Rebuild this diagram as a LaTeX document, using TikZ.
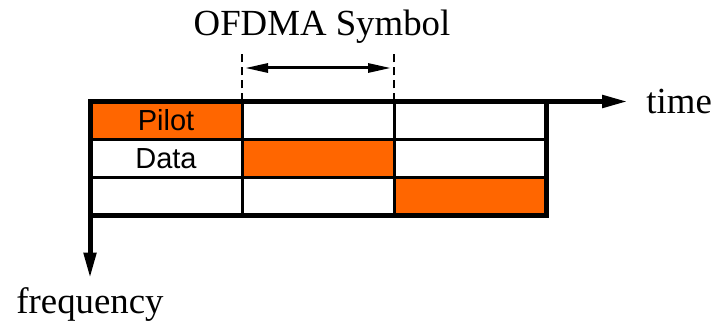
\documentclass[tikz,border=0pt]{standalone}
\usepackage{fontspec}
\setmainfont{Liberation Serif}
\newfontfamily\cellfont{Liberation Sans}
\usepackage{tikz}
\definecolor{PilotOrange}{RGB}{255,102,0}
\usetikzlibrary{
	positioning,
	arrows.meta
}

\begin{document}
\begin{tikzpicture}[
	cell/.style={draw, line width=1.5pt, outer sep=0pt, inner sep=0pt, font=\cellfont\fontsize{14.5}{17}\selectfont, minimum width=76pt, minimum height=19pt},
	pilot/.style={cell, fill=PilotOrange},
	frame/.style={line width=2.5pt},
	axis/.style={line width=2.5pt, -{Triangle[length=13pt,width=6pt]}},
	marker/.style={line width=0.8pt, dash pattern=on 4pt off 2.5pt},
	symspan/.style={line width=1.5pt, {Triangle[length=11.5pt,width=4.5pt]}-{Triangle[length=11.5pt,width=4.5pt]}, shorten >=1.5pt, shorten <=1.5pt},
	axislabel/.style={inner sep=0pt, font=\fontsize{18.4}{22}\selectfont}
]
	\useasboundingbox (0,0) rectangle (358pt,-163pt);

	\node[pilot, anchor=north west] (c11) at (45pt,-50.75pt) {Pilot};
	\node[cell, right=0pt of c11] (c12) {};
	\node[cell, right=0pt of c12] (c13) {};

	\node[cell, below=0pt of c11] (c21) {Data};
	\node[pilot, right=0pt of c21] (c22) {};
	\node[cell, right=0pt of c22] (c23) {};

	\node[cell, below=0pt of c21] (c31) {};
	\node[cell, right=0pt of c31] (c32) {};
	\node[pilot, right=0pt of c32] (c33) {};

	\draw[frame] (c11.north west) rectangle (c33.south east);

	% axes
	\coordinate[right=41pt of c13.north east] (tend);
	\draw[axis] (c13.north east) -- (tend);
	\node[axislabel, right=9pt of tend] (time) {time};

	\coordinate[below=31.5pt of c31.south west] (fend);
	\draw[axis] (c31.south west) -- (fend);
	\node[axislabel, below=4.5pt of fend] (freq) {frequency};

	% symbol duration
	\coordinate[above=24pt of c12.north west] (d1);
	\coordinate[above=24pt of c12.north east] (d2);
	\draw[marker] (c12.north west) -- (d1);
	\draw[marker] (c12.north east) -- (d2);
	\coordinate[above=16.75pt of c12.north west] (s1);
	\coordinate[above=16.75pt of c12.north east] (s2);
	\draw[symspan] (s1) -- (s2) node[axislabel, midway, above=11.5pt, xshift=2pt] (sym) {OFDMA Symbol};

\end{tikzpicture}
\end{document}
